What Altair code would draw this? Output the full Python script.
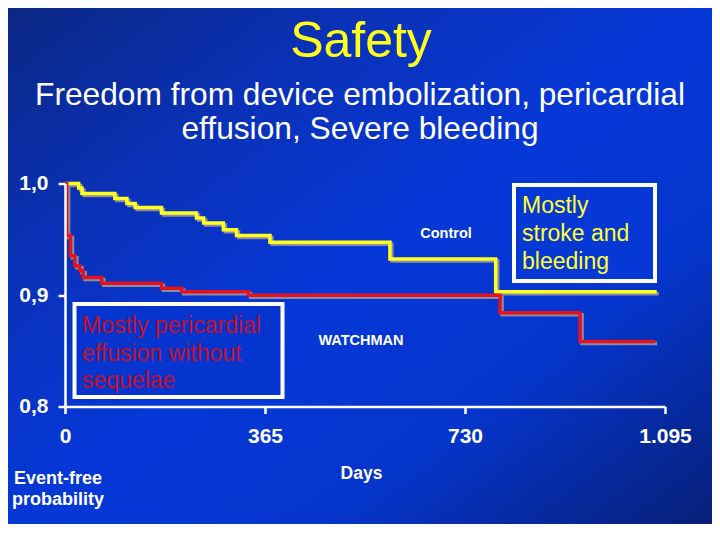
import altair as alt
import pandas as pd

# ---------------- data ----------------
control_days = [0, 25, 31, 91, 113, 128, 176, 240, 253, 289, 313, 374, 593, 786, 1080]
control_surv = [1.0, 0.996, 0.9911, 0.9866, 0.9821, 0.9785, 0.9736, 0.969, 0.9645,
                0.9586, 0.9534, 0.9473, 0.9323, 0.903, 0.903]
watchman_days = [0, 3, 10, 18, 27, 33, 67, 176, 213, 335, 794, 940, 1077]
watchman_surv = [1.0, 0.9534, 0.9353, 0.9262, 0.9217, 0.9157, 0.9106, 0.9061, 0.903,
                 0.8998, 0.884, 0.8584, 0.8584]
series_names = ["Control", "WATCHMAN"]
series_colors = ["#ffff1e", "#e3121f"]
x_ticks = [0, 365, 730, 1095]
y_ticks = [0.8, 0.9, 1.0]

title_text = "Safety"
subtitle_lines = ["Freedom from device embolization, pericardial", "effusion, Severe bleeding"]
x_title = "Days"
y_title = ["Event-free", "probability"]
box_left_lines = ["Mostly pericardial", "effusion without", "sequelae"]
box_right_lines = ["Mostly", "stroke and", "bleeding"]

FONT = "Liberation Sans"

rows = []
for d, s in zip(control_days, control_surv):
    rows.append({"day": d, "surv": s, "group": series_names[0]})
for d, s in zip(watchman_days, watchman_surv):
    rows.append({"day": d, "surv": s, "group": series_names[1]})
df = pd.DataFrame(rows)
one = pd.DataFrame({"k": [0]})

W, H = 600, 223
PAD_L, PAD_T = 57, 175.5
TOT_W, TOT_H = 704, 516

x_axis = alt.Axis(values=x_ticks, grid=False, labelFlush=False, labelOverlap=False,
                  labelExpr="datum.value == 1095 ? '1.095' : format(datum.value, 'd')",
                  title=x_title, titleX=296, titleY=72, titleAlign="center",
                  titleBaseline="alphabetic", titleFontSize=17.5, zindex=2)
y_axis = alt.Axis(values=y_ticks, grid=False, labelFlush=False, labelOverlap=False,
                  labelExpr="replace(format(datum.value, '.1f'), '.', ',')",
                  title=y_title, titleAngle=0, titleX=-7.5, titleY=300,
                  titleAlign="center", titleBaseline="alphabetic",
                  titleFontSize=18, titleLineHeight=21, zindex=2)

xs = alt.Scale(domain=[0, 1095], nice=False, zero=False)
ys = alt.Scale(domain=[0.8, 1.0], nice=False, zero=False)

bg = alt.Chart(one).mark_rect(
    fill=alt.LinearGradient(
        gradient="linear", x1=0, y1=0, x2=1, y2=1,
        stops=[alt.GradientStop(color="#0b2784", offset=0),
               alt.GradientStop(color="#0a31b6", offset=0.25),
               alt.GradientStop(color="#0638d8", offset=0.5),
               alt.GradientStop(color="#0535cc", offset=0.72),
               alt.GradientStop(color="#071f78", offset=1)]),
    strokeWidth=0,
).encode(x=alt.value(-PAD_L), x2=alt.value(TOT_W - PAD_L),
         y=alt.value(-PAD_T), y2=alt.value(TOT_H - PAD_T))

box_left = alt.Chart(one).mark_rect(fill="#0634cf", stroke="white", strokeWidth=4).encode(
    x=alt.value(9.5), x2=alt.value(217.5), y=alt.value(120.5), y2=alt.value(213.5))
box_right = alt.Chart(one).mark_rect(fill="#0638d6", stroke="white", strokeWidth=4).encode(
    x=alt.value(449), x2=alt.value(590), y=alt.value(1.5), y2=alt.value(97.5))

base = alt.Chart(df).encode(
    x=alt.X("day:Q", scale=xs, axis=x_axis),
    y=alt.Y("surv:Q", scale=ys, axis=y_axis),
    detail="group:N",
)
shadow = base.mark_line(interpolate="step-after", color="#8c8ca6", strokeWidth=3.5,
                        xOffset=2, yOffset=2)
lines = base.mark_line(interpolate="step-after", strokeWidth=3.5).encode(
    color=alt.Color("group:N", scale=alt.Scale(domain=series_names, range=series_colors),
                    legend=None))


def txt(lines_, x, y, size, color, bold=False, align="left", lh=None):
    kw = dict(text=lines_, align=align, baseline="alphabetic", fontSize=size, font=FONT,
              fontWeight="bold" if bold else "normal", color=color)
    if lh is not None:
        kw["lineHeight"] = lh
    return alt.Chart(one).mark_text(**kw).encode(x=alt.value(x), y=alt.value(y))


texts = [
    txt(title_text, 296, -126.8, 50, "#ffff1e", align="center"),
    txt(subtitle_lines, 295, -78.5, 31.7, "white", align="center", lh=33.5),
    txt(box_left_lines, 17, 149.5, 23, "#c4102c", lh=27.5),
    txt(box_right_lines, 457, 29.8, 23, "#ffff33", lh=27.8),
    txt(series_names[0], 381, 54.5, 14.5, "white", bold=True, align="center"),
    txt(series_names[1], 296, 161.5, 14.5, "white", bold=True, align="center"),
]

chart = alt.layer(bg, box_left, box_right, shadow, lines, *texts).properties(
    width=W, height=H,
    autosize=alt.AutoSizeParams(type="none"),
    padding={"left": PAD_L, "top": PAD_T, "right": TOT_W - PAD_L - W,
             "bottom": TOT_H - PAD_T - H},
    background="#0636d2",
).configure_view(stroke=None).configure_axis(
    domainColor="white", domainWidth=2.5, tickColor="white", tickWidth=2.5, tickSize=7,
    labelColor="white", labelFont=FONT, labelFontWeight="bold", labelFontSize=21,
    titleColor="white", titleFont=FONT, titleFontWeight="bold",
).configure_axisX(labelPadding=12).configure_axisY(labelPadding=10)

chart.save("out.html", embed_options={"renderer": "svg", "actions": False})
